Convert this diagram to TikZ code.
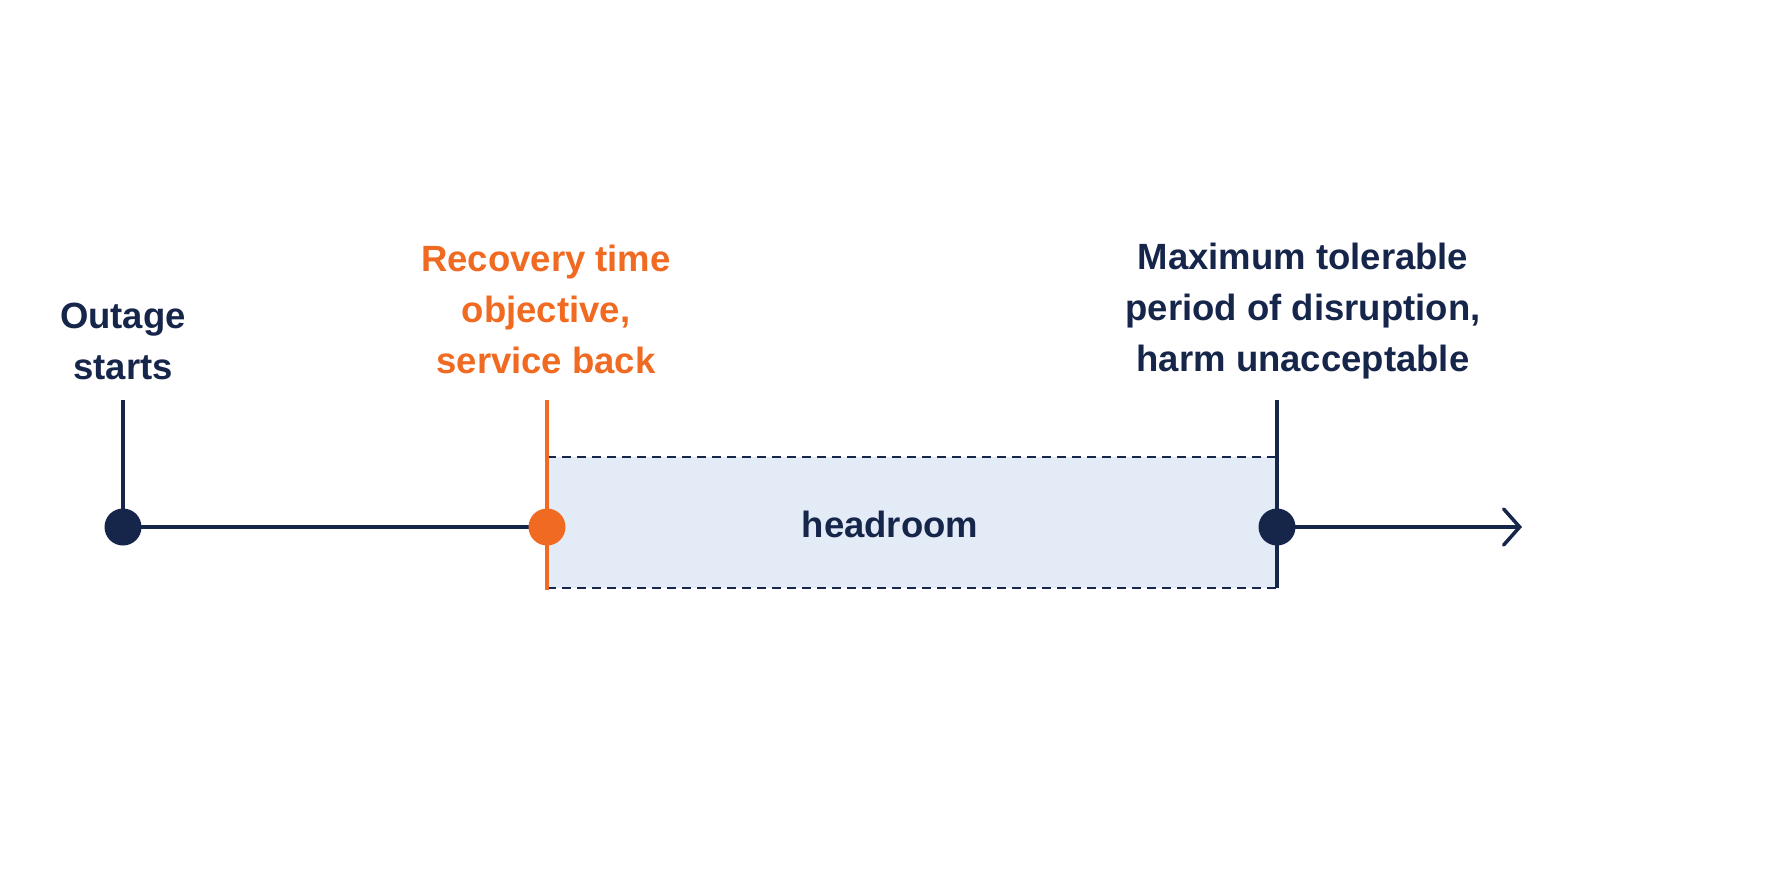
\documentclass[tikz,border=0pt]{standalone}
\usepackage{fontspec}
\setmainfont{Liberation Sans}
\usetikzlibrary{arrows.meta}
\definecolor{navy}{HTML}{16254A}
\definecolor{orng}{HTML}{F06A22}
\definecolor{hfill}{HTML}{E3EBF6}
\begin{document}
\begin{tikzpicture}[x=1pt,y=-1pt,
  lab/.style={font=\fontsize{36.5}{51}\selectfont\bfseries,align=center,text=navy},
  dot/.style={circle,fill=#1,inner sep=0pt,minimum size=37pt},
  ln/.style={line width=3.5pt,draw=navy}]
\useasboundingbox[fill=white] (0,0) rectangle (1774,887);
\fill[hfill] (547,457) rectangle (1277,588);
\draw[navy,line width=2pt,dash pattern=on 9pt off 6pt] (547,457) -- (1277,457) (547,588) -- (1277,588);
\coordinate (o) at (123,527);
\coordinate (r) at (547,527);
\coordinate (m) at (1277,527);
\coordinate (e) at (1522,527);
\coordinate (ot) at (123,400);
\coordinate (rt) at (547,400);
\coordinate (rb) at (547,590);
\coordinate (mt) at (1277,400);
\coordinate (mb) at (1277,588);
\draw[ln] (ot) -- (o);
\draw[ln] (o) -- (r);
\draw[line width=3.5pt,draw=orng] (rt) -- (rb);
\draw[ln] (mt) -- (mb);
\draw[ln,line cap=round,-{Straight Barb[length=16pt,width=36pt,line cap=round]}] (m) -- (e);
\node[dot=navy] (od) at (o) {};
\node[dot=orng] (rd) at (r) {};
\node[dot=navy] (md) at (m) {};
\node[lab] (l1) at (123,341) {Outage\\starts};
\node[lab,text=orng] (l2) at (546,309) {Recovery time\\objective,\\service back};
\node[lab] (l3) at (1303,311) {Maximum tolerable\\period of disruption,\\harm unacceptable};
\node[lab] (h) at (890,524) {headroom};
\end{tikzpicture}
\end{document}
